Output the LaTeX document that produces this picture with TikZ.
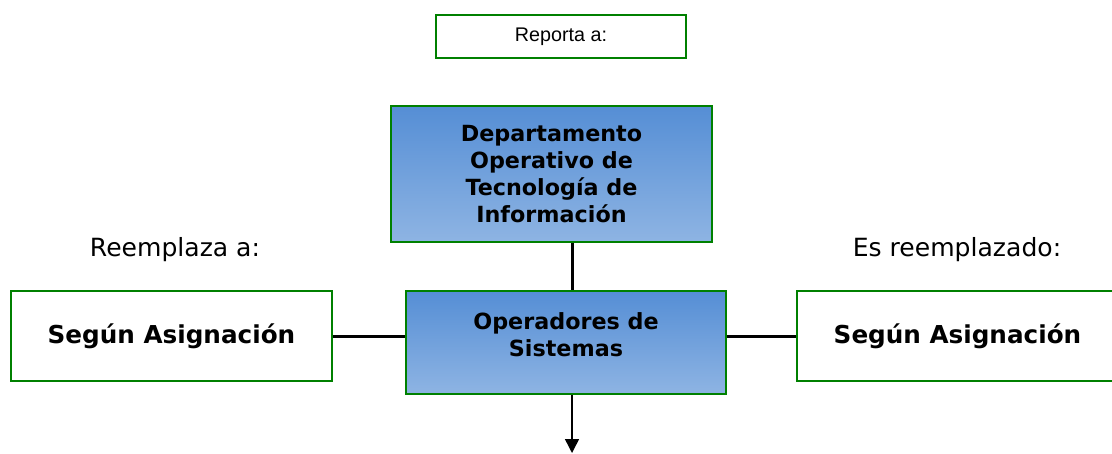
\documentclass[tikz,border=0pt]{standalone}
\usepackage{fontspec}
\setmainfont{DejaVu Sans}
\newfontfamily\arialfont{Liberation Sans}
\usetikzlibrary{arrows.meta}
\definecolor{boxgreen}{RGB}{0,128,0}
\definecolor{bluetop}{RGB}{85,142,213}
\definecolor{bluebot}{RGB}{142,180,227}
\tikzset{
  whitebox/.style={draw=boxgreen,line width=1.1pt,fill=white,inner sep=0pt,align=center,
    font=\fontsize{18.5}{22}\selectfont\bfseries},
  bluebox/.style={whitebox,top color=bluetop,bottom color=bluebot,
    font=\fontsize{16.7}{20.25}\selectfont\bfseries},
  link/.style={line width=2.25pt},
  caption/.style={inner sep=0pt,font=\fontsize{18.8}{22}\selectfont},
}
\begin{document}
\begin{tikzpicture}[x=0.75pt,y=-0.75pt]
  \useasboundingbox (0,0) rectangle (1112,453);
  \node[whitebox,minimum width=187.5pt,minimum height=32.25pt,
    font=\arialfont\fontsize{14.8}{17}\selectfont] (rep) at (561,36.5) {Reporta a:};
  \node[bluebox,minimum width=240.75pt,minimum height=102pt] (dep) at (551.5,174)
    {Departamento\\Operativo de\\Tecnología de\\Información};
  \node[bluebox,minimum width=240pt,minimum height=77.25pt] (ope) at (566,342.5) {};
  \node[inner sep=0pt,align=center,font=\fontsize{16.7}{20.25}\selectfont\bfseries] (opetxt)
    at (566,335) {Operadores de\\Sistemas};
  \node[whitebox,minimum width=240.75pt,minimum height=67.5pt] (lft) at (171.5,336) {Según Asignación};
  \node[whitebox,minimum width=240.75pt,minimum height=67.5pt] (rgt) at (957.5,336) {Según Asignación};
  \node[caption] (reemplaza) at (175,250) {Reemplaza a:};
  \node[caption] (reemplazado) at (957,250) {Es reemplazado:};
  \coordinate (tip) at (572,453);
  \draw[link] (dep.south -| tip) -- (ope.north -| tip);
  \draw[link] (lft.east) -- (lft.east -| ope.west);
  \draw[link] (ope.east |- rgt.west) -- (rgt.west);
  \draw[line width=1.1pt,-{Triangle[width=10.5pt,length=10.5pt]}] (ope.south -| tip) -- (tip);
\end{tikzpicture}
\end{document}
